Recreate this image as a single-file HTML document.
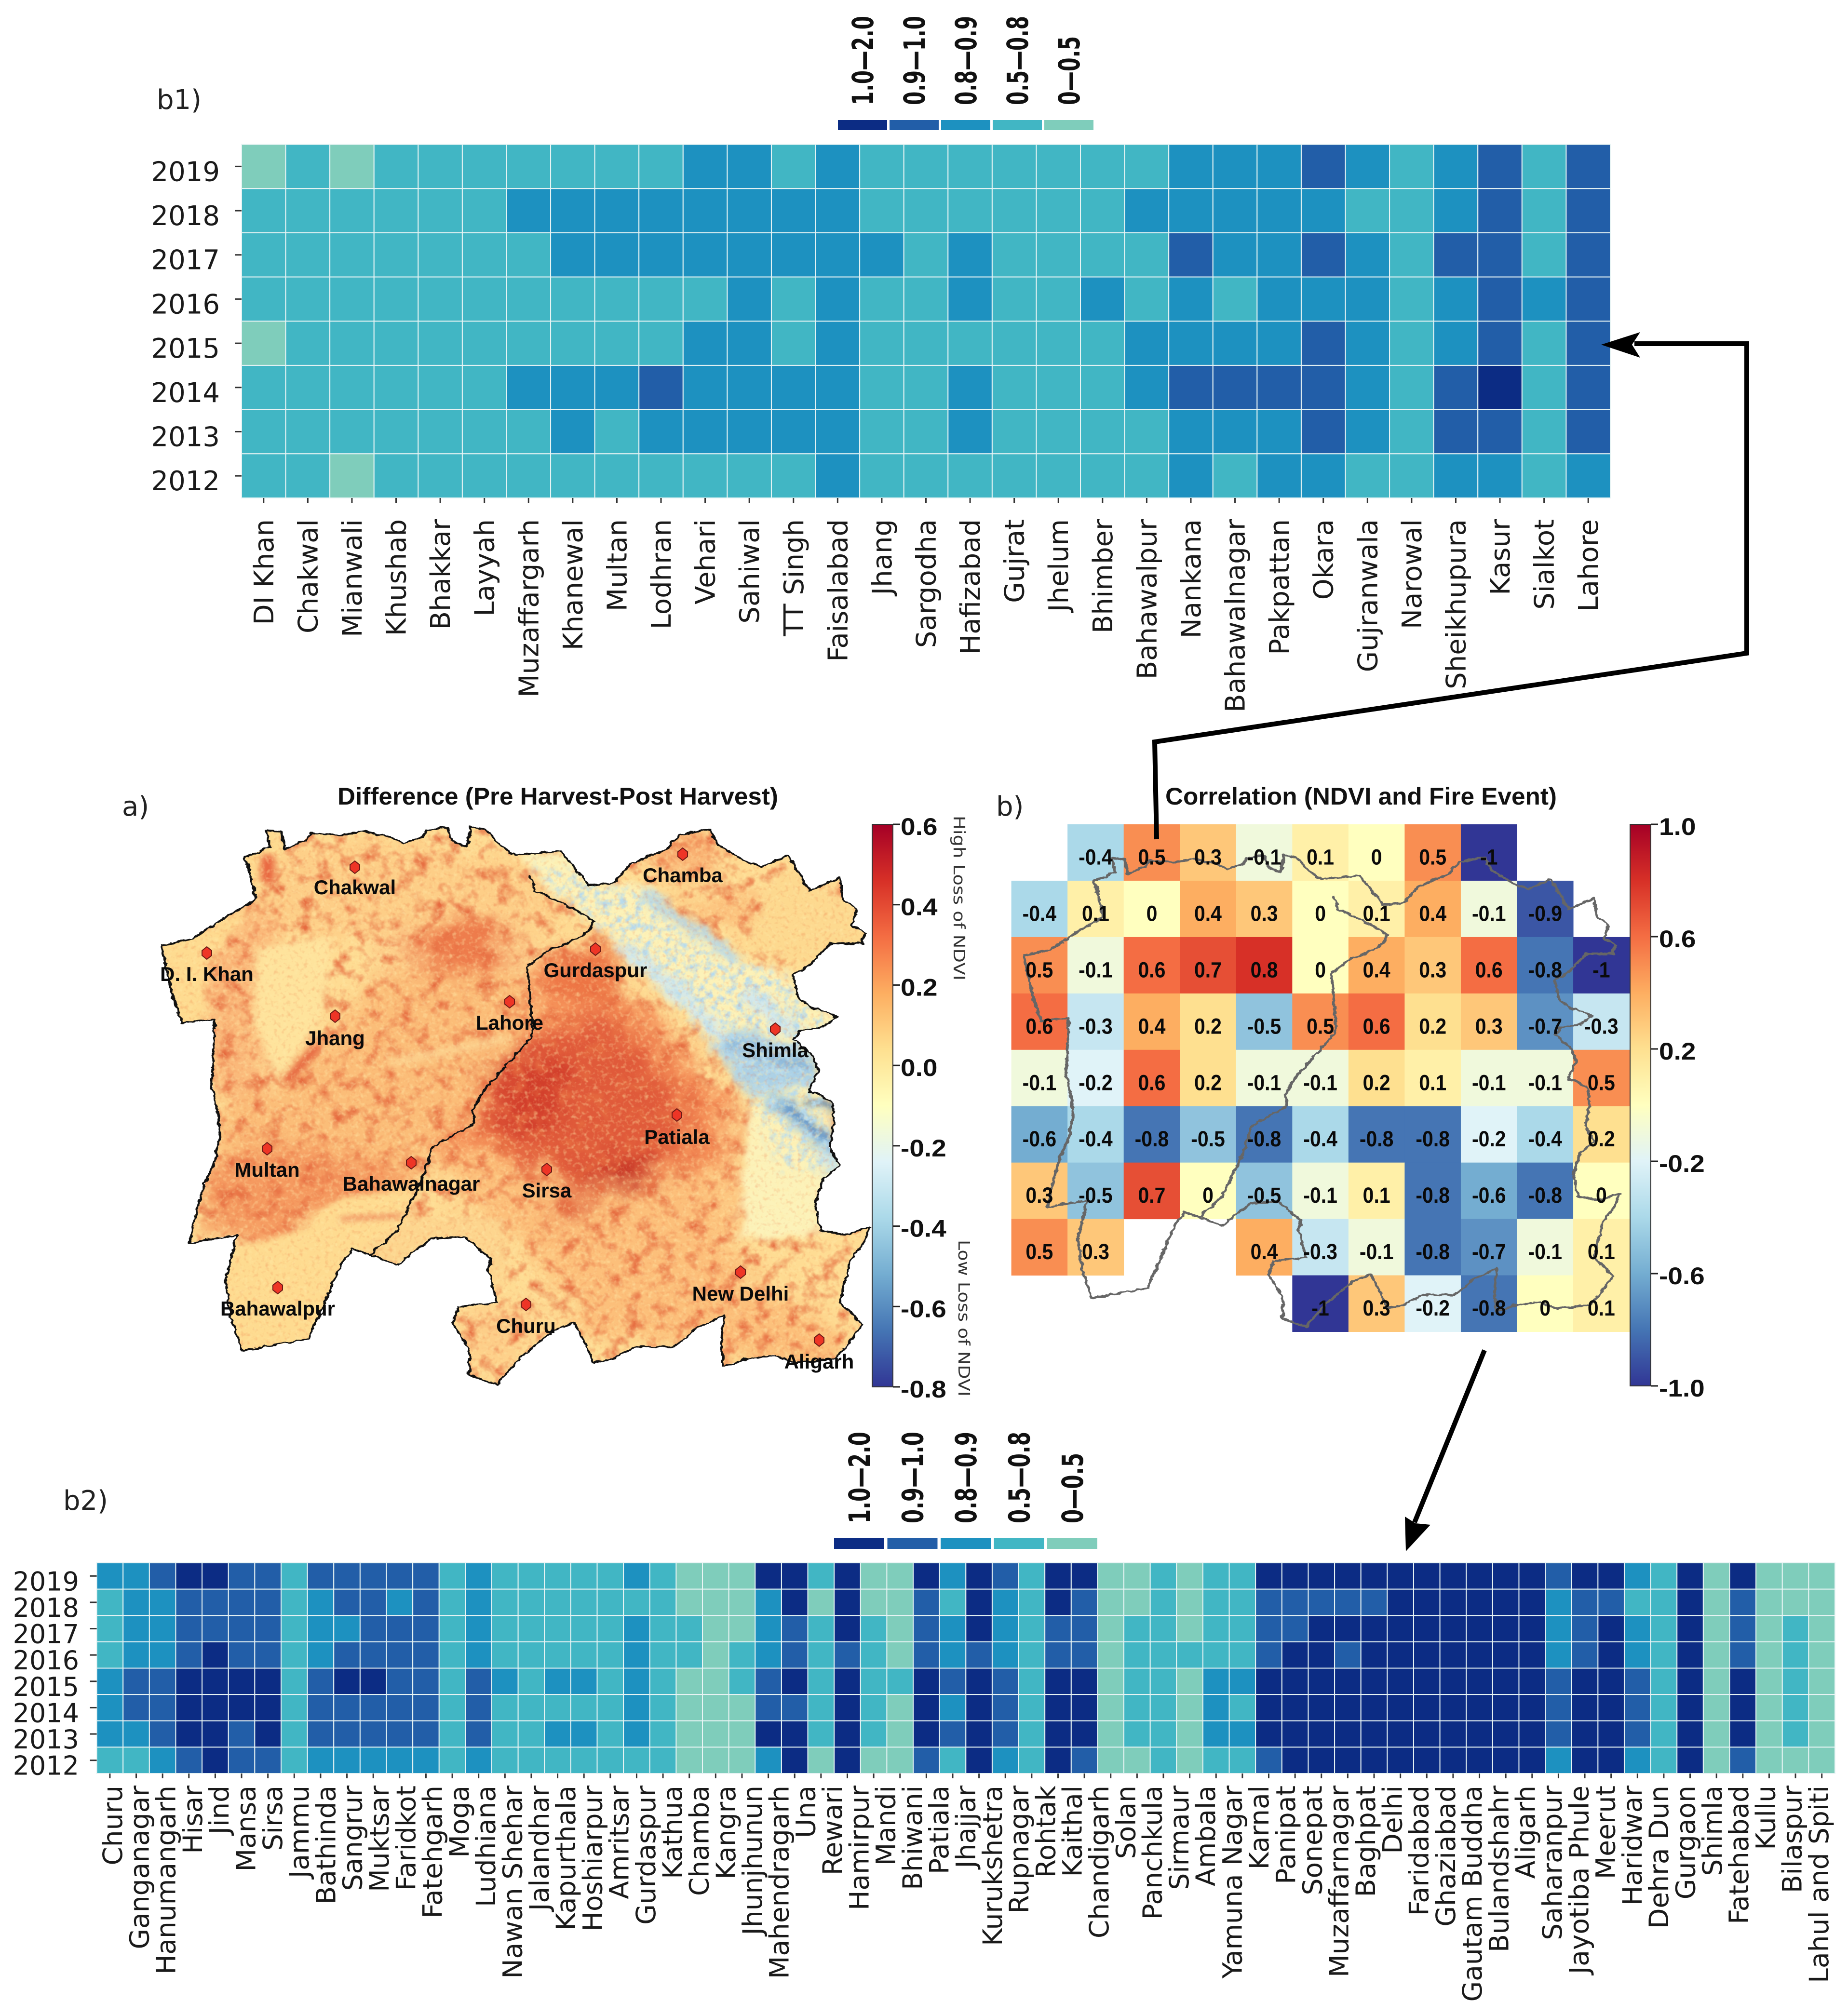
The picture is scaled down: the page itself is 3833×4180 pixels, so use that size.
<!DOCTYPE html>
<html lang="en">
<head>
<meta charset="utf-8">
<title>NDVI difference, correlation and district heatmaps</title>
<style>
html,body{margin:0;padding:0;background:#fff;}
svg{display:block;}
.dj{font-family:"DejaVu Sans","Liberation Sans",sans-serif;}
.ls{font-family:"Liberation Sans","DejaVu Sans",sans-serif;}
</style>
</head>
<body>
<svg id="figure" xmlns="http://www.w3.org/2000/svg" width="3833" height="4180" viewBox="0 0 3833 4180">
<defs>
  <linearGradient id="rdylbu" x1="0" y1="1" x2="0" y2="0">
    <stop offset="0" stop-color="#313695"/><stop offset=".1" stop-color="#4575b4"/><stop offset=".2" stop-color="#74add1"/>
    <stop offset=".3" stop-color="#abd9e9"/><stop offset=".4" stop-color="#e0f3f8"/><stop offset=".5" stop-color="#ffffbf"/>
    <stop offset=".6" stop-color="#fee090"/><stop offset=".7" stop-color="#fdae61"/><stop offset=".8" stop-color="#f46d43"/>
    <stop offset=".9" stop-color="#d73027"/><stop offset="1" stop-color="#a50026"/>
  </linearGradient>
  <filter id="warp" filterUnits="userSpaceOnUse" x="-100" y="0" width="1700" height="1750" color-interpolation-filters="sRGB">
    <feGaussianBlur in="SourceGraphic" stdDeviation="24" result="b"/>
    <feTurbulence type="fractalNoise" baseFrequency="0.02 0.014" numOctaves="3" seed="11" result="n"/>
    <feDisplacementMap in="b" in2="n" scale="90" xChannelSelector="R" yChannelSelector="G"/>
  </filter>
  <filter id="warpSoft" filterUnits="userSpaceOnUse" x="-100" y="0" width="1700" height="1750" color-interpolation-filters="sRGB">
    <feGaussianBlur in="SourceGraphic" stdDeviation="9" result="b"/>
    <feTurbulence type="fractalNoise" baseFrequency="0.03 0.022" numOctaves="2" seed="5" result="n"/>
    <feDisplacementMap in="b" in2="n" scale="36" xChannelSelector="R" yChannelSelector="G"/>
  </filter>
  <filter id="blur3" filterUnits="userSpaceOnUse" x="-100" y="0" width="1700" height="1750"><feGaussianBlur stdDeviation="3"/></filter>
  <filter id="blur7" filterUnits="userSpaceOnUse" x="-100" y="0" width="1700" height="1750"><feGaussianBlur stdDeviation="7"/></filter>
  <filter id="blur14" filterUnits="userSpaceOnUse" x="-100" y="0" width="1700" height="1750"><feGaussianBlur stdDeviation="14"/></filter>
  <filter id="mottle" filterUnits="userSpaceOnUse" x="0" y="100" width="1400" height="1480" color-interpolation-filters="sRGB">
    <feTurbulence type="fractalNoise" baseFrequency="0.034 0.025" numOctaves="3" seed="21"/>
    <feColorMatrix type="matrix" values="0 0 0 0 .9  0 0 0 0 .42  0 0 0 0 .25  2.6 0 0 0 -1.25"/>
  </filter>
  <filter id="bluePatch" filterUnits="userSpaceOnUse" x="0" y="100" width="1400" height="1480" color-interpolation-filters="sRGB">
    <feTurbulence type="fractalNoise" baseFrequency="0.07 0.05" numOctaves="3" seed="9"/>
    <feColorMatrix type="matrix" values="0 0 0 0 .72  0 0 0 0 .86  0 0 0 0 .93  3.2 0 0 0 -1.4"/>
  </filter>
  <filter id="grainLight" filterUnits="userSpaceOnUse" x="0" y="100" width="1400" height="1480" color-interpolation-filters="sRGB">
    <feTurbulence type="fractalNoise" baseFrequency="0.13 0.094" numOctaves="2" seed="7"/>
    <feColorMatrix type="matrix" values="0 0 0 0 1  0 0 0 0 .92  0 0 0 0 .66  2.6 0 0 0 -1.3"/>
  </filter>
  <filter id="grainDark" filterUnits="userSpaceOnUse" x="0" y="100" width="1400" height="1480" color-interpolation-filters="sRGB">
    <feTurbulence type="fractalNoise" baseFrequency="0.13 0.094" numOctaves="2" seed="31"/>
    <feColorMatrix type="matrix" values="0 0 0 0 .92  0 0 0 0 .42  0 0 0 0 .24  2.2 0 0 0 -1.15"/>
  </filter>
  <filter id="rough" filterUnits="userSpaceOnUse" x="0" y="100" width="1400" height="1480" color-interpolation-filters="sRGB">
    <feTurbulence type="fractalNoise" baseFrequency="0.07" numOctaves="3" seed="3"/>
    <feDisplacementMap in="SourceGraphic" scale="10" xChannelSelector="R" yChannelSelector="G"/>
  </filter>
  <polygon id="outline-shape" points="262,148 290,150 298,195 330,175 345,155 400,160 440,150 490,165 510,180 545,165 555,148 590,140 600,175 625,190 632,140 660,145 690,190 715,210 750,205 795,200 820,240 845,285 890,280 920,235 950,215 985,195 1010,160 1065,145 1080,185 1130,225 1160,240 1205,210 1225,250 1245,300 1300,265 1305,320 1330,345 1320,385 1345,405 1340,430 1285,430 1240,490 1215,510 1225,570 1250,590 1295,615 1270,640 1230,650 1215,670 1250,710 1260,750 1245,800 1285,825 1290,880 1280,940 1300,985 1270,1020 1255,1080 1265,1150 1310,1160 1355,1140 1345,1175 1320,1220 1310,1270 1300,1330 1340,1385 1310,1440 1290,1470 1220,1480 1180,1460 1130,1470 1090,1490 1085,1440 1090,1360 1040,1395 1000,1440 930,1440 890,1470 855,1480 835,1420 820,1380 780,1400 720,1470 680,1535 630,1510 630,1445 600,1380 610,1340 680,1330 665,1250 670,1220 620,1165 560,1170 500,1235 450,1210 420,1195 400,1230 360,1355 340,1420 220,1450 200,1370 190,1270 210,1160 125,1180 135,1110 155,1020 170,980 180,900 165,780 170,620 110,630 90,540 75,435 130,420 190,365 245,320 225,215 270,190"/>
  <polyline id="border-shape" points="740,260 750,300 800,330 855,375 840,410 770,450 735,490 740,570 745,650 740,670 700,730 650,810 635,850 640,880 565,940 545,1020 500,1150 450,1210"/>
  <polygon id="himalaya-shape" points="720,200 800,200 880,280 947,286 1017,390 1126,467 1212,505 1230,570 1300,615 1260,720 1300,990 1265,1160 1120,1170 1120,1000 1142,817 1087,697 978,544 912,447 860,380 800,320 740,260"/>
  <polygon id="diamond" points="0,-13 10,-5 10,5 0,13 -10,5 -10,-5"/>
  <clipPath id="map-clip"><use href="#outline-shape"/></clipPath>
  <mask id="himalaya-mask" maskUnits="userSpaceOnUse" x="0" y="100" width="1400" height="1480">
    <polygon fill="#fff" filter="url(#blur14)" points="740,220 880,290 947,300 1017,400 1126,480 1205,515 1225,575 1290,620 1255,720 1295,990 1200,1000 1142,817 1087,697 978,544 912,447 860,380 800,320"/>
  </mask>
</defs>

<!-- Panel a: NDVI difference map -->
<g transform="translate(250,1600) scale(1.148,0.829)">
  <g clip-path="url(#map-clip)">
    <rect x="0" y="100" width="1400" height="1480" fill="#fedc93"/>
    <g filter="url(#warp)">
      <polygon fill="#fdce87" points="230,200 520,170 720,230 840,300 740,440 520,400 380,430 240,360"/>
      <polygon fill="#fab678" points="150,470 240,330 290,360 240,600 270,800 180,840 150,620"/>
      <polygon fill="#fbbd78" points="380,640 520,430 720,480 740,640 640,870 560,940 520,1040 330,1040 180,1000 170,820 280,790"/>
      <polygon fill="#fcc987" points="440,400 720,400 730,500 500,500"/>
      <ellipse fill="#ee7c4c" cx="610" cy="440" rx="80" ry="70"/>
      <polygon fill="#f59a60" points="140,1150 170,960 330,930 500,990 510,1100 400,1110 300,1170 200,1170"/>
      <polygon fill="#fcbf7a" points="560,950 1110,1000 1120,1260 1300,1400 1300,1490 1100,1490 1000,1430 840,1400 780,1250 640,1110"/>
      <polygon fill="#fdcd88" points="610,1340 770,1340 720,1470 640,1510"/>
      <polygon fill="#f58f58" points="740,480 860,420 900,530 1100,830 1110,1000 560,950 640,850 740,660"/>
      <ellipse fill="#f9ae70" cx="1016" cy="200" rx="60" ry="70"/>
      <ellipse fill="#fbc07c" cx="1090" cy="350" rx="80" ry="45"/>
    </g>
    <g filter="url(#warp)">
      <polygon fill="#e05a3a" points="730,700 860,600 960,700 1020,850 1000,960 880,1050 780,1020 650,880"/>
      <ellipse fill="#d23e2b" cx="740" cy="800" rx="70" ry="100"/>
      <ellipse fill="#bf2a20" cx="905" cy="1005" rx="50" ry="34"/>
      <ellipse fill="#d8492f" cx="810" cy="1085" rx="34" ry="30"/>
      <ellipse fill="#ec7444" cx="850" cy="520" rx="50" ry="60"/>
    </g>
    <rect x="0" y="100" width="1400" height="1480" fill="#000" filter="url(#mottle)"/>
    <g fill="#fedb90" filter="url(#blur7)">
      <polygon points="180,1200 247,1180 340,1141 348,1107 402,1065 535,1045 497,1163 450,1210 400,1260 340,1430 210,1460 180,1300"/>
      <polygon fill="#fee39c" points="244,444 383,412 363,622 283,779 244,632"/>
      <polygon points="60,420 170,395 240,330 160,480 144,640 100,640"/>
      <polygon points="225,210 262,140 295,200 245,330 230,300"/>
      <polygon fill="#fdd98f" points="1130,440 1170,300 1210,230 1350,380 1350,440 1240,480"/>
      <polygon fill="#fdd58e" points="430,1190 530,1120 690,1120 700,1260 670,1330 620,1165 560,1170 500,1235"/>
    </g>
    <g fill="none" stroke-linecap="round" filter="url(#blur7)">
      <line x1="494" y1="729" x2="693" y2="670" stroke="#fdd491" stroke-opacity=".8" stroke-width="22"/>
      <line x1="303" y1="772" x2="354" y2="691" stroke="#e45f3a" stroke-width="18"/>
      <line x1="402" y1="1120" x2="504" y2="1112" stroke="#f09060" stroke-width="12"/>
      <line x1="266" y1="220" x2="266" y2="270" stroke="#e8623c" stroke-width="24"/>
    </g>
    <use href="#himalaya-shape" fill="#fcf2b9" filter="url(#warpSoft)"/>
    <g filter="url(#warpSoft)" fill="none" stroke-linecap="round">
      <polyline stroke="#b4d6e8" stroke-width="22" points="955,312 1010,370 1064,421 1110,470"/>
      <polyline stroke="#d2e8ec" stroke-width="32" points="915,450 990,530 1056,616 1095,697"/>
      <polyline stroke="#d2e8ec" stroke-width="40" points="1140,560 1180,610 1210,640"/>
      <polygon fill="#acd1e6" stroke="none" points="1072,681 1120,640 1240,700 1262,780 1180,800 1142,817"/>
      <polyline stroke="#8db9db" stroke-width="28" points="1110,680 1180,720 1245,740"/>
      <polyline stroke="#9cc6e0" stroke-width="38" points="1186,824 1235,880 1284,950"/>
      <polyline stroke="#5d8fc6" stroke-width="20" points="1205,840 1255,890 1285,930"/>
      <polyline stroke="#3d6fb0" stroke-width="14" points="1245,826 1290,840"/>
      <polyline stroke="#cfe6e6" stroke-width="34" points="1270,960 1290,1000"/>
    </g>
    <rect x="0" y="100" width="1400" height="1480" fill="#000" filter="url(#bluePatch)" mask="url(#himalaya-mask)"/>
    <rect x="0" y="100" width="1400" height="1480" fill="#000" filter="url(#grainDark)" opacity=".32"/>
    <rect x="0" y="100" width="1400" height="1480" fill="#000" filter="url(#grainLight)" opacity=".5"/>
  </g>
  <g filter="url(#rough)" fill="none" stroke="#111" stroke-width="4" stroke-linejoin="round">
    <use href="#outline-shape"/>
    <use href="#border-shape"/>
  </g>
</g>

<g>
  <g fill="#ee3526" stroke="#6b1a16" stroke-width="2">
    <use href="#diamond" x="736" y="1799"/>
    <use href="#diamond" x="1416" y="1772"/>
    <use href="#diamond" x="429" y="1977"/>
    <use href="#diamond" x="1235" y="1969"/>
    <use href="#diamond" x="695" y="2108"/>
    <use href="#diamond" x="1057" y="2078"/>
    <use href="#diamond" x="1608" y="2135"/>
    <use href="#diamond" x="1404" y="2313"/>
    <use href="#diamond" x="554" y="2383"/>
    <use href="#diamond" x="853" y="2412"/>
    <use href="#diamond" x="1134" y="2426"/>
    <use href="#diamond" x="1536" y="2639"/>
    <use href="#diamond" x="576" y="2671"/>
    <use href="#diamond" x="1091" y="2706"/>
    <use href="#diamond" x="1699" y="2780"/>
  </g>
  <g class="ls" font-size="42" font-weight="700" fill="#0a0a0a" text-anchor="middle">
    <text x="736" y="1855">Chakwal</text>
    <text x="1416" y="1830">Chamba</text>
    <text x="429" y="2035">D. I. Khan</text>
    <text x="1235" y="2027">Gurdaspur</text>
    <text x="695" y="2168">Jhang</text>
    <text x="1057" y="2136">Lahore</text>
    <text x="1608" y="2193">Shimla</text>
    <text x="1404" y="2373">Patiala</text>
    <text x="554" y="2441">Multan</text>
    <text x="853" y="2470">Bahawalnagar</text>
    <text x="1134" y="2484">Sirsa</text>
    <text x="1536" y="2698">New Delhi</text>
    <text x="576" y="2729">Bahawalpur</text>
    <text x="1091" y="2765">Churu</text>
    <text x="1699" y="2839">Aligarh</text>
  </g>
</g>

<text class="ls" x="700" y="1669" font-size="50" font-weight="700" fill="#111" textLength="914" lengthAdjust="spacingAndGlyphs">Difference (Pre Harvest-Post Harvest)</text>
<text class="ls" x="2417" y="1669" font-size="50" font-weight="700" fill="#111" textLength="812" lengthAdjust="spacingAndGlyphs">Correlation (NDVI and Fire Event)</text>
<text class="dj" x="253" y="1692" font-size="56" fill="#222">a)</text>
<text class="dj" x="2066" y="1692" font-size="56" fill="#222">b)</text>
<text class="dj" x="325" y="226" font-size="56" fill="#222">b1)</text>
<text class="dj" x="131" y="3132" font-size="56" fill="#222">b2)</text>
<text class="dj" font-size="33" fill="#333" transform="translate(1978,1692) rotate(90)" textLength="342" lengthAdjust="spacingAndGlyphs">High Loss of NDVI</text>
<text class="dj" font-size="33" fill="#333" transform="translate(1988,2572) rotate(90)" textLength="325" lengthAdjust="spacingAndGlyphs">Low Loss of NDVI</text>

<g id="correlation-cells"></g>
<g fill="none" stroke="#666" stroke-width="6" stroke-linejoin="round" transform="translate(2052.4,1676.6) scale(0.965,0.701)">
  <g filter="url(#rough)">
    <use href="#outline-shape"/>
    <use href="#border-shape"/>
  </g>
</g>
<g id="correlation-text"></g>
<g id="colorbar-a"></g>
<g id="colorbar-b"></g>
<g id="heatmap-b1"></g>
<g id="heatmap-b2"></g>
<g id="legend-b1"></g>
<g id="legend-b2"></g>

<g>
  <polyline points="2399,1741 2395,1539 3623,1355 3623,713 3390,713" fill="none" stroke="#000" stroke-width="10" stroke-linejoin="miter"/>
  <polygon points="3321,715 3402,689 3385,715 3402,742" fill="#000"/>
  <line x1="3079" y1="2801" x2="2934" y2="3158" stroke="#000" stroke-width="10"/>
  <polygon points="2916,3218 2914,3146 2936,3160 2967,3163" fill="#000"/>
</g>
</svg>

<script>
// ---------- Heatmap legend ----------
const binLegendLabels = ['1.0—2.0', '0.9—1.0', '0.8—0.9', '0.5—0.8', '0—0.5'];
const binUpperEdges = [0.5, 0.8, 0.9, 1.0];
const binColors = ['#7fcdbb', '#41b6c4', '#1d91c0', '#225ea8', '#0c2c84'];

// ---------- Heatmap b1 (Pakistan districts) ----------
const years = ['2019', '2018', '2017', '2016', '2015', '2014', '2013', '2012'];
const b1Districts = ['DI Khan','Chakwal','Mianwali','Khushab','Bhakkar','Layyah','Muzaffargarh','Khanewal','Multan','Lodhran','Vehari','Sahiwal','TT Singh','Faisalabad','Jhang','Sargodha','Hafizabad','Gujrat','Jhelum','Bhimber','Bahawalpur','Nankana','Bahawalnagar','Pakpattan','Okara','Gujranwala','Narowal','Sheikhupura','Kasur','Sialkot','Lahore'];
const b1Values2019 = [.4,.7,.4,.7,.7,.7,.7,.7,.7,.7,.85,.85,.7,.85,.7,.7,.7,.7,.7,.7,.7,.85,.85,.85,.95,.85,.7,.85,.95,.7,.95];
const b1Values2018 = [.7,.7,.7,.7,.7,.7,.85,.85,.85,.85,.85,.85,.85,.85,.7,.7,.7,.7,.7,.7,.85,.85,.85,.85,.85,.7,.7,.85,.95,.7,.95];
const b1Values2017 = [.7,.7,.7,.7,.7,.7,.7,.85,.85,.85,.85,.85,.85,.85,.85,.7,.85,.7,.7,.7,.7,.95,.85,.85,.95,.85,.7,.95,.95,.7,.95];
const b1Values2016 = [.7,.7,.7,.7,.7,.7,.7,.7,.7,.7,.7,.85,.7,.85,.7,.7,.85,.7,.7,.85,.7,.85,.7,.85,.85,.85,.7,.85,.95,.85,.95];
const b1Values2015 = [.4,.7,.7,.7,.7,.7,.7,.7,.7,.7,.85,.85,.7,.85,.7,.7,.7,.7,.7,.7,.85,.85,.85,.85,.95,.85,.7,.85,.95,.7,.95];
const b1Values2014 = [.7,.7,.7,.7,.7,.7,.85,.85,.85,.95,.85,.85,.85,.85,.7,.7,.85,.7,.7,.7,.85,.95,.95,.95,.95,.85,.7,.95,1.5,.7,.95];
const b1Values2013 = [.7,.7,.7,.7,.7,.7,.7,.85,.7,.85,.85,.85,.85,.85,.7,.7,.85,.7,.7,.7,.7,.85,.85,.85,.95,.85,.7,.95,.95,.7,.95];
const b1Values2012 = [.7,.7,.4,.7,.7,.7,.7,.7,.7,.7,.7,.7,.7,.85,.7,.7,.7,.7,.7,.7,.7,.85,.7,.85,.85,.7,.7,.85,.85,.7,.85];

// ---------- Heatmap b2 (Indian districts), one row per column, 2019 to 2012 ----------
const b2Districts = ['Churu','Ganganagar','Hanumangarh','Hisar','Jind','Mansa','Sirsa','Jammu','Bathinda','Sangrur','Muktsar','Faridkot','Fatehgarh','Moga','Ludhiana','Nawan Shehar','Jalandhar','Kapurthala','Hoshiarpur','Amritsar','Gurdaspur','Kathua','Chamba','Kangra','Jhunjhunun','Mahendragarh','Una','Rewari','Hamirpur','Mandi','Bhiwani','Patiala','Jhajjar','Kurukshetra','Rupnagar','Rohtak','Kaithal','Chandigarh','Solan','Panchkula','Sirmaur','Ambala','Yamuna Nagar','Karnal','Panipat','Sonepat','Muzaffarnagar','Baghpat','Delhi','Faridabad','Ghaziabad','Gautam Buddha','Bulandshahr','Aligarh','Saharanpur','Jayotiba Phule','Meerut','Haridwar','Dehra Dun','Gurgaon','Shimla','Fatehabad','Kullu','Bilaspur','Lahul and Spiti'];
const b2ColumnValues = [
[.85,.7,.7,.7,.85,.85,.85,.7],
[.85,.85,.85,.85,.95,.95,.85,.7],
[.95,.85,.85,.85,.95,.95,.95,.85],
[1.5,.95,.95,.95,1.5,1.5,1.5,.95],
[1.5,.95,.95,1.5,1.5,1.5,1.5,1.5],
[.95,.95,.95,.95,1.5,1.5,.95,.95],
[.95,.95,.95,.95,1.5,1.5,1.5,.95],
[.7,.7,.7,.7,.7,.7,.7,.7],
[.95,.85,.85,.85,.95,.95,.95,.85],
[.95,.95,.85,.95,1.5,.95,.95,.85],
[.95,.95,.95,.95,1.5,.95,.95,.85],
[.95,.85,.95,.95,.95,.95,.95,.85],
[.95,.95,.95,.95,.95,.95,.95,.85],
[.7,.7,.7,.7,.7,.7,.7,.7],
[.85,.85,.85,.85,.95,.95,.95,.85],
[.7,.7,.7,.7,.85,.7,.7,.7],
[.7,.7,.7,.7,.7,.7,.7,.7],
[.7,.7,.7,.7,.85,.7,.85,.7],
[.7,.7,.7,.7,.85,.7,.85,.7],
[.7,.7,.7,.7,.7,.7,.7,.7],
[.85,.7,.85,.85,.85,.85,.85,.7],
[.7,.7,.7,.7,.7,.7,.7,.7],
[.4,.4,.7,.7,.4,.4,.4,.4],
[.4,.4,.4,.4,.4,.4,.4,.4],
[.4,.4,.4,.7,.7,.4,.4,.4],
[1.5,.85,.85,.85,.95,.95,1.5,.85],
[1.5,1.5,.95,.95,1.5,.95,1.5,1.5],
[.7,.4,.7,.7,.7,.7,.7,.4],
[1.5,1.5,1.5,.95,1.5,1.5,1.5,1.5],
[.4,.4,.7,.7,.7,.7,.7,.4],
[.4,.4,.4,.4,.7,.4,.4,.4],
[1.5,.95,.95,.95,1.5,1.5,1.5,.95],
[.85,.7,.85,.85,.95,.85,.95,.7],
[1.5,1.5,1.5,.95,1.5,1.5,1.5,1.5],
[.95,.85,.85,.85,.95,.95,.95,.85],
[.7,.7,.7,.7,.7,.7,.7,.7],
[1.5,1.5,.95,.95,1.5,1.5,1.5,1.5],
[1.5,.95,.95,.95,1.5,1.5,1.5,.95],
[.4,.4,.4,.4,.4,.4,.4,.4],
[.4,.4,.7,.7,.7,.7,.7,.4],
[.7,.7,.7,.7,.7,.7,.7,.7],
[.4,.4,.4,.7,.4,.4,.4,.4],
[.7,.7,.7,.7,.85,.85,.85,.7],
[.7,.7,.7,.7,.85,.7,.85,.7],
[1.5,.95,.95,.95,1.5,1.5,1.5,.95],
[1.5,.95,.95,1.5,1.5,1.5,1.5,1.5],
[1.5,.95,1.5,1.5,1.5,1.5,1.5,1.5],
[1.5,.95,1.5,.95,1.5,1.5,1.5,1.5],
[1.5,.95,1.5,1.5,1.5,1.5,1.5,1.5],
[1.5,1.5,1.5,1.5,1.5,1.5,1.5,1.5],
[1.5,1.5,1.5,1.5,1.5,1.5,1.5,1.5],
[1.5,1.5,1.5,1.5,1.5,1.5,1.5,1.5],
[1.5,1.5,1.5,1.5,1.5,1.5,1.5,1.5],
[1.5,1.5,1.5,1.5,1.5,1.5,1.5,1.5],
[1.5,1.5,1.5,1.5,1.5,1.5,1.5,1.5],
[.95,.85,.85,.85,.95,.95,.95,.85],
[1.5,.95,.95,.95,1.5,1.5,1.5,1.5],
[1.5,.95,1.5,1.5,1.5,1.5,1.5,1.5],
[.85,.7,.85,.85,.95,.95,.95,.85],
[.7,.7,.7,.7,.7,.7,.7,.7],
[1.5,1.5,1.5,1.5,1.5,1.5,1.5,1.5],
[.4,.4,.4,.4,.4,.4,.4,.4],
[1.5,.95,.95,.95,1.5,1.5,1.5,.95],
[.4,.4,.4,.4,.4,.4,.4,.4],
[.4,.4,.7,.7,.7,.7,.7,.4],
[.4,.4,.4,.4,.4,.4,.4,.4]
];

// ---------- Correlation grid (null = no data) ----------
const corrRow1 = [null,-0.4,0.5,0.3,-0.1,0.1,0,0.5,-1,null,null];
const corrRow2 = [-0.4,0.1,0,0.4,0.3,0,0.1,0.4,-0.1,-0.9,null];
const corrRow3 = [0.5,-0.1,0.6,0.7,0.8,0,0.4,0.3,0.6,-0.8,-1];
const corrRow4 = [0.6,-0.3,0.4,0.2,-0.5,0.5,0.6,0.2,0.3,-0.7,-0.3];
const corrRow5 = [-0.1,-0.2,0.6,0.2,-0.1,-0.1,0.2,0.1,-0.1,-0.1,0.5];
const corrRow6 = [-0.6,-0.4,-0.8,-0.5,-0.8,-0.4,-0.8,-0.8,-0.2,-0.4,0.2];
const corrRow7 = [0.3,-0.5,0.7,0,-0.5,-0.1,0.1,-0.8,-0.6,-0.8,0];
const corrRow8 = [0.5,0.3,null,null,0.4,-0.3,-0.1,-0.8,-0.7,-0.1,0.1];
const corrRow9 = [null,null,null,null,null,-1,0.3,-0.2,-0.8,0,0.1];

// ---------- Colorbar ticks ----------
const diffTicks = [0.6, 0.4, 0.2, 0.0, -0.2, -0.4, -0.6, -0.8];
const corrTicks = [1.0, 0.6, 0.2, -0.2, -0.6, -1.0];

const SVGNS = 'http://www.w3.org/2000/svg';
function mk(parent, tag, attrs, text) {
  const el = document.createElementNS(SVGNS, tag);
  for (const k in attrs) el.setAttribute(k, attrs[k]);
  if (text !== undefined) el.textContent = text;
  parent.appendChild(el);
  return el;
}
function slug(s) { return String(s).toLowerCase().replace(/[^a-z0-9]+/g, '-'); }
function binColor(v) {
  let i = 0;
  while (i < binUpperEdges.length && v >= binUpperEdges[i]) i++;
  return binColors[i];
}
function band(start, end, n) { const w = (end - start) / n; return i => start + i * w; }
function linear(d0, d1, r0, r1) { return v => r0 + (v - d0) / (d1 - d0) * (r1 - r0); }

// RdYlBu_r
const divergingStops = ['#313695','#4575b4','#74add1','#abd9e9','#e0f3f8','#ffffbf','#fee090','#fdae61','#f46d43','#d73027','#a50026'];
function diverging(t) {
  const p = Math.max(0, Math.min(1, t)) * 10, i = Math.min(9, Math.floor(p)), f = p - i;
  const a = divergingStops[i], b = divergingStops[i + 1];
  const c = [1, 3, 5].map(o => {
    const x = parseInt(a.substr(o, 2), 16), y = parseInt(b.substr(o, 2), 16);
    return Math.round(x + (y - x) * f);
  });
  return 'rgb(' + c.join(',') + ')';
}

function drawHeatmap(root, g) {
  const x = band(g.left, g.right, g.nCols), y = band(g.top, g.bottom, years.length);
  const cw = (g.right - g.left) / g.nCols, ch = (g.bottom - g.top) / years.length;
  for (let r = 0; r < years.length; r++) {
    for (let c = 0; c < g.nCols; c++) {
      const cell = mk(root, 'rect', { x: x(c), y: y(r), width: cw, height: ch, fill: binColor(g.value(r, c)), stroke: '#e8f4f4', 'stroke-width': 2 });
      
      
    }
    const t = mk(root, 'line', { x1: g.left - 14, x2: g.left, y1: y(r) + ch / 2, y2: y(r) + ch / 2, stroke: '#333', 'stroke-width': 3 });
    
    
    const lab = mk(root, 'text', { x: g.yLabelX, y: y(r) + ch / 2 + 30, 'text-anchor': 'end', 'font-size': g.yFont, fill: '#1a1a1a', class: 'dj' }, years[r]);
    
    
  }
  for (let c = 0; c < g.nCols; c++) {
    const tx = x(c) + cw / 2;
    const t = mk(root, 'line', { x1: tx, x2: tx, y1: g.bottom, y2: g.bottom + 10, stroke: '#333', 'stroke-width': 3 });
    
    
  }
  g.labels.forEach((name, i) => {
    const lx = g.labelX(i) + 20;
    const lab = mk(root, 'text', { transform: 'translate(' + lx + ',' + g.labelTop + ') rotate(-90)', 'text-anchor': 'end', 'font-size': g.xFont, fill: '#1a1a1a', class: 'dj' }, name);
    
    
  });
}

const b1Rows = [b1Values2019, b1Values2018, b1Values2017, b1Values2016, b1Values2015, b1Values2014, b1Values2013, b1Values2012];
const b1X = band(501, 3340, b1Districts.length);
drawHeatmap(document.getElementById('heatmap-b1'), {
  left: 501, right: 3340, top: 299.5, bottom: 1033,
  nCols: b1Districts.length, labels: b1Districts,
  value: (r, c) => b1Rows[r][c],
  labelX: i => b1X(i) + (3340 - 501) / b1Districts.length / 2,
  labelTop: 1077, xFont: 56, yFont: 56, yLabelX: 456
});
const b2LabelX = linear(0, b2Districts.length - 1, 233, 3772);
drawHeatmap(document.getElementById('heatmap-b2'), {
  left: 200.6, right: 3806, top: 3242, bottom: 3679,
  nCols: b2ColumnValues.length, labels: b2Districts,
  value: (r, c) => b2ColumnValues[c][r],
  labelX: b2LabelX,
  labelTop: 3704, xFont: 55, yFont: 54, yLabelX: 164
});

function drawLegend(root, o) {
  binLegendLabels.forEach((label, i) => {
    const x0 = o.left + i * o.step;
    const colorIndex = binColors.length - 1 - i;
    const s = mk(root, 'rect', { x: x0, y: o.swatchTop, width: o.swatchW, height: o.swatchH, fill: binColors[colorIndex] });
    
    
    const len = label.length === 7 ? o.longLen : o.shortLen;
    const tx = x0 + o.swatchW / 2 + 22;
    const t = mk(root, 'text', { transform: 'translate(' + tx + ',' + o.labelBottom + ') rotate(-90)', 'font-size': 61, 'font-weight': 700, fill: '#111', class: 'dj', textLength: len, lengthAdjust: 'spacingAndGlyphs' }, label);
    
    
  });
}
drawLegend(document.getElementById('legend-b1'), { left: 1738, step: 107, swatchW: 102, swatchTop: 249, swatchH: 21, labelBottom: 218, longLen: 185, shortLen: 143 });
drawLegend(document.getElementById('legend-b2'), { left: 1730, step: 110.5, swatchW: 104, swatchTop: 3191, swatchH: 22, labelBottom: 3160, longLen: 190, shortLen: 146 });

const corrRows = [corrRow1, corrRow2, corrRow3, corrRow4, corrRow5, corrRow6, corrRow7, corrRow8, corrRow9];
(function () {
  const cells = document.getElementById('correlation-cells');
  const texts = document.getElementById('correlation-text');
  const nC = corrRow1.length, nR = corrRows.length;
  const x = band(2097.6, 3379.6, nC), y = band(1710, 2762.5, nR);
  const cw = (3379.6 - 2097.6) / nC, ch = (2762.5 - 1710) / nR;
  const tone = linear(-1, 1, 0, 1);
  corrRows.forEach((row, r) => row.forEach((v, c) => {
    if (v === null) return;
    const cell = mk(cells, 'rect', { x: x(c), y: y(r), width: cw + 0.5, height: ch + 0.5, fill: diverging(tone(v)) });
    
    
    const t = mk(texts, 'text', { x: x(c) + cw / 2, y: y(r) + ch / 2 + 25, 'text-anchor': 'middle', 'font-size': 45, 'font-weight': 700, fill: '#0a0a0a', class: 'ls' }, String(v));
    
    
    t.setAttribute('textLength', t.getComputedTextLength() * 0.91);
    t.setAttribute('lengthAdjust', 'spacingAndGlyphs');
  }));
})();

function drawColorbar(root, o) {
  const bar = mk(root, 'rect', { x: o.x0, y: o.top, width: o.x1 - o.x0, height: o.bottom - o.top, fill: 'url(#rdylbu)', stroke: '#333', 'stroke-width': 2 });
  
  
  const y = linear(o.ticks[0], o.ticks[o.ticks.length - 1], o.top, o.bottom);
  o.ticks.forEach(v => {
    const t = mk(root, 'line', { x1: o.x1, x2: o.x1 + 15, y1: y(v), y2: y(v), stroke: '#222', 'stroke-width': 3 });
    
    
    const lab = mk(root, 'text', { x: o.labelX, y: y(v) + 22, 'font-size': 50, 'font-weight': 700, fill: '#111', class: 'ls' }, v.toFixed(1));
    
    
    lab.setAttribute('textLength', lab.getComputedTextLength() * 1.1);
    lab.setAttribute('lengthAdjust', 'spacingAndGlyphs');
  });
}
drawColorbar(document.getElementById('colorbar-a'), { x0: 1809, x1: 1852, top: 1710, bottom: 2877, labelX: 1868, ticks: diffTicks });
drawColorbar(document.getElementById('colorbar-b'), { x0: 3381, x1: 3424, top: 1710, bottom: 2875, labelX: 3441, ticks: corrTicks });
</script>
</body>
</html>
